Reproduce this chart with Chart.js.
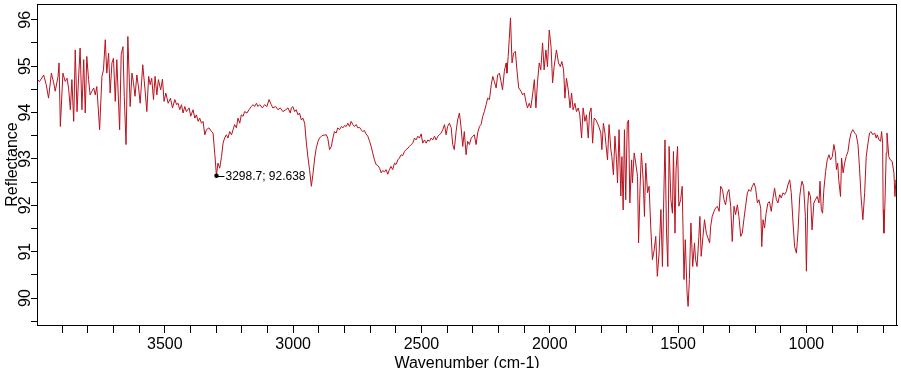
<!DOCTYPE html>
<html>
<head>
<meta charset="utf-8">
<title>Reflectance spectrum</title>
<script src="https://cdn.jsdelivr.net/npm/chart.js"></script>
<style>
  html, body { margin: 0; padding: 0; background: #fff; }
  canvas { display: block; }
</style>
</head>
<body>
<canvas id="spectrum" width="901" height="368"></canvas>
<script>
// spectrum, high to low wavenumber
const wavenumber = [
  3998, 3988, 3972, 3962, 3953, 3942, 3933, 3927, 3916, 3912, 3907, 3897, 3888, 3881, 3875, 3868,
  3862, 3855, 3849, 3842, 3836, 3830, 3823, 3816, 3810, 3804, 3797, 3791, 3784, 3777, 3771, 3765,
  3754, 3745, 3739, 3732, 3726, 3719, 3713, 3706, 3700, 3693, 3687, 3676, 3670, 3663, 3658, 3651,
  3644, 3635, 3628, 3622, 3616, 3609, 3602, 3596, 3586, 3577, 3570, 3563, 3557, 3551, 3544, 3538,
  3531, 3525,
  3516, 3509, 3503, 3496, 3487, 3478, 3470, 3461, 3454, 3448, 3442, 3435, 3429, 3422, 3416, 3405,
  3399, 3390, 3383, 3377, 3370, 3364, 3357, 3351, 3344, 3338, 3328, 3318, 3312, 3305, 3298.7, 3293,
  3286, 3279, 3273, 3267, 3260, 3254, 3247, 3240, 3234, 3228, 3221, 3215, 3208, 3202, 3195, 3189,
  3180, 3172, 3163, 3156, 3150, 3143, 3137, 3130, 3120, 3111, 3102, 3094, 3085, 3079, 3068, 3059,
  3050, 3040, 3029, 3020, 3011,
  3007, 3001, 2994, 2988, 2981, 2975, 2968, 2962, 2955, 2949, 2942, 2936, 2929, 2923, 2916, 2910,
  2903, 2897, 2890, 2884, 2871, 2865, 2858, 2851, 2845, 2839, 2832, 2826, 2819, 2812, 2806, 2800,
  2793, 2787, 2780, 2774, 2767, 2761, 2754, 2748, 2741, 2735, 2729, 2722, 2716, 2709, 2702, 2696,
  2690, 2683, 2677, 2670, 2663, 2657, 2651, 2644, 2638, 2631, 2625, 2619, 2612, 2605, 2599, 2592,
  2586, 2579, 2573, 2566, 2560, 2553, 2547, 2540, 2534, 2527, 2521, 2514, 2508, 2501,
  2495, 2488, 2482, 2475, 2469, 2462, 2456, 2449, 2443, 2436, 2430, 2423, 2417, 2410, 2404, 2398,
  2391, 2384, 2378, 2372, 2365, 2359, 2352, 2346, 2339, 2333, 2326, 2320, 2313, 2306, 2300, 2294,
  2287, 2281, 2274, 2268, 2261, 2255, 2248, 2242, 2235, 2228, 2222, 2216, 2209, 2203, 2196, 2190,
  2184, 2177, 2170, 2167, 2162, 2158, 2153, 2147, 2141, 2134, 2128, 2121, 2112, 2106, 2099, 2093,
  2087, 2080, 2074, 2067, 2060, 2054, 2048, 2041, 2035, 2028, 2022, 2015, 2009, 2002,
  1995, 1989, 1983, 1974, 1966, 1959, 1953, 1946, 1941, 1935, 1928, 1921, 1915, 1909, 1902, 1896,
  1889, 1883, 1876, 1870, 1863, 1857, 1850, 1845, 1839, 1833, 1827, 1820, 1814, 1807, 1801, 1797,
  1791, 1785, 1781, 1775, 1769, 1762, 1758, 1752, 1746, 1740, 1736, 1730, 1723, 1719, 1714, 1709,
  1704, 1698, 1693, 1688, 1681, 1678, 1671, 1665, 1658, 1654, 1648, 1643, 1636, 1631, 1626, 1619,
  1613, 1606, 1600, 1593, 1587, 1581, 1574, 1567, 1561, 1557, 1551, 1545, 1540, 1535, 1528, 1522,
  1518, 1512, 1508, 1502, 1497, 1490,
  1484, 1477, 1472, 1465, 1461, 1456, 1450, 1443, 1436, 1432, 1426, 1419, 1415, 1410, 1403, 1397,
  1390, 1384, 1377, 1373, 1367, 1360, 1354, 1347, 1340, 1334, 1327, 1321, 1315, 1308, 1302, 1295,
  1289, 1282, 1276, 1269, 1263, 1256, 1250, 1243, 1237, 1230, 1224, 1217, 1211, 1204, 1198, 1191,
  1185, 1178, 1174, 1169, 1163, 1157, 1150, 1144, 1137, 1130, 1124, 1117, 1111, 1104, 1098, 1091,
  1085, 1078, 1072, 1065, 1059, 1052, 1046, 1039, 1033, 1026, 1021,
  1017, 1011, 1004, 1000, 995, 991, 984, 978, 971, 965, 958, 951, 947, 942, 937, 932,
  925, 919, 912, 906, 899, 893, 887, 883, 878, 874, 867, 863, 857, 851, 845, 838,
  832, 826, 819, 812, 806, 799, 793, 787, 780, 773, 767, 760, 754, 748, 741, 734,
  728, 724, 717, 711, 707, 703, 701, 698, 694, 689, 686, 679, 673, 666, 659, 655,
  651, 647
];

const reflectance = [
  94.71, 94.67, 94.81, 94.60, 94.31, 94.85, 94.64, 94.46, 94.78, 95.07, 93.70, 94.85, 94.67, 94.74, 94.53, 94.06,
  94.71, 93.81, 95.35, 94.02, 94.74, 95.39, 94.06, 95.14, 93.99, 95.21, 94.71, 94.38, 94.46, 94.53, 94.38, 94.56,
  93.63, 94.78, 94.92, 95.57, 94.85, 95.28, 94.42, 95.07, 95.17, 94.24, 95.14, 93.63, 95.25, 95.42, 94.35, 93.31,
  95.64, 94.13, 94.85, 94.64, 94.35, 94.81, 94.53, 94.20, 95.03, 94.49, 94.02, 94.78, 94.60, 94.74, 94.28, 94.78,
  94.38, 94.71,
  94.49, 94.72, 94.24, 94.42, 94.20, 94.31, 94.10, 94.28, 94.17, 94.20, 94.06, 94.17, 93.99, 94.13, 94.02, 94.10,
  93.92, 94.06, 93.88, 93.95, 93.81, 93.88, 93.77, 93.81, 93.52, 93.63, 93.67, 93.59, 93.56, 93.09, 92.638, 92.91,
  92.80, 93.05, 93.34, 93.45, 93.52, 93.45, 93.59, 93.52, 93.63, 93.74, 93.67, 93.88, 93.77, 93.95, 93.92, 94.02,
  93.99, 94.06, 94.13, 94.17, 94.13, 94.20, 94.13, 94.17, 94.10, 94.17, 94.13, 94.28, 94.17, 94.10, 94.13, 94.06,
  94.10, 94.02, 94.06, 94.10, 93.99,
  94.10, 94.13, 94.02, 94.06, 93.95, 93.99, 93.84, 93.88, 93.77, 93.38, 93.02, 92.77, 92.41, 92.66, 93.02, 93.23,
  93.38, 93.45, 93.49, 93.51, 93.52, 93.45, 93.20, 93.27, 93.45, 93.59, 93.56, 93.67, 93.63, 93.70, 93.67, 93.72,
  93.70, 93.77, 93.70, 93.81, 93.74, 93.70, 93.74, 93.67, 93.68, 93.63, 93.59, 93.61, 93.54, 93.49, 93.38, 93.27,
  93.13, 92.98, 92.88, 92.86, 92.80, 92.70, 92.75, 92.72, 92.77, 92.67, 92.77, 92.84, 92.77, 92.91, 92.88, 92.98,
  93.02, 93.09, 93.07, 93.16, 93.20, 93.23, 93.27, 93.31, 93.34, 93.45, 93.41, 93.49, 93.45, 93.54,
  93.34, 93.41, 93.34, 93.41, 93.38, 93.45, 93.41, 93.49, 93.41, 93.49, 93.52, 93.56, 93.63, 93.74, 93.52, 93.70,
  93.77, 93.67, 93.31, 93.20, 93.59, 93.84, 93.99, 93.70, 93.27, 93.59, 93.09, 93.38, 93.31, 93.45, 93.49, 93.52,
  93.31, 93.56, 93.70, 93.74, 93.92, 94.02, 94.17, 94.31, 94.28, 94.60, 94.78, 94.67, 94.53, 94.81, 94.85, 94.67,
  94.49, 94.89, 95.07, 94.85, 95.21, 95.57, 96.04, 95.07, 95.28, 95.32, 94.92, 94.53, 94.46, 94.38, 94.42, 94.24,
  94.10, 94.20, 94.10, 94.38, 94.71, 94.10, 94.64, 95.07, 94.92, 95.50, 94.92, 95.35, 94.99, 95.78,
  95.42, 94.64, 94.99, 95.35, 95.07, 94.99, 95.10, 94.92, 94.31, 94.74, 94.49, 94.10, 94.42, 94.06, 94.20, 94.02,
  94.10, 93.95, 93.45, 94.10, 93.81, 93.95, 93.45, 93.99, 94.10, 93.34, 93.88, 93.84, 93.77, 93.67, 93.56, 93.20,
  93.77, 93.56, 93.31, 92.98, 93.74, 93.20, 93.05, 92.66, 93.49, 92.98, 92.48, 93.63, 92.20, 93.05, 91.90, 93.63,
  92.12, 93.77, 93.84, 92.05, 92.98, 92.48, 93.13, 92.91, 92.62, 91.19, 92.41, 93.13, 92.55, 91.76, 92.91, 92.27,
  92.41, 91.47, 90.83, 91.04, 91.33, 90.47, 90.97, 91.91, 90.68, 91.83, 93.41, 91.40, 90.68, 93.27, 92.12, 91.83,
  93.16, 91.40, 92.77, 93.27, 91.98, 92.12,
  92.41, 90.40, 91.26, 90.11, 89.82, 90.40, 91.62, 90.68, 91.19, 90.83, 90.68, 91.33, 91.76, 90.90, 91.33, 91.69,
  91.40, 91.30, 91.19, 91.55, 91.76, 91.87, 91.94, 91.98, 91.87, 92.41, 92.34, 92.12, 92.01, 92.27, 92.34, 91.98,
  91.22, 91.98, 91.80, 92.01, 91.76, 91.33, 91.40, 91.72, 91.98, 92.27, 92.34, 92.30, 92.41, 92.48, 92.37, 92.05,
  92.12, 91.94, 91.11, 91.69, 91.51, 91.83, 92.05, 92.08, 91.87, 92.16, 92.37, 92.12, 92.05, 92.23, 92.16, 92.27,
  92.23, 92.30, 92.44, 92.55, 92.27, 91.62, 91.11, 90.97, 91.40, 92.19, 92.41,
  92.52, 92.41, 91.76, 90.58, 91.98, 92.30, 92.19, 91.47, 92.05, 92.12, 92.19, 92.05, 92.52, 91.91, 91.83, 92.34,
  92.73, 92.98, 93.09, 92.98, 93.05, 93.31, 93.13, 92.77, 92.91, 92.55, 92.19, 93.02, 92.70, 92.91, 93.05, 93.16,
  93.41, 93.56, 93.63, 93.56, 93.52, 93.31, 92.80, 92.19, 91.69, 92.27, 93.05, 93.34, 93.56, 93.59, 93.52, 93.56,
  93.45, 93.52, 93.41, 93.38, 93.59, 93.34, 91.91, 91.40, 92.05, 93.13, 93.56, 93.05, 92.98, 92.95, 92.70, 92.19,
  92.55, 92.41
];

// axes
const xTickValues = [3900, 3800, 3700, 3600, 3500, 3400, 3300, 3200, 3100, 3000, 2900, 2800, 2700, 2600, 2500,
  2400, 2300, 2200, 2100, 2000, 1900, 1800, 1700, 1600, 1500, 1400, 1300, 1200, 1100, 1000, 900, 800, 700];
const yTickValues = [89.5, 90, 90.5, 91, 91.5, 92, 92.5, 93, 93.5, 94, 94.5, 95, 95.5, 96];
const yLabelValues = [90, 91, 92, 93, 94, 95, 96];

// marked peak
const peakX = 3298.7;
const peakY = 92.638;
const peakLabel = '3298.7; 92.638';

const FONT = '"Liberation Sans", Arial, sans-serif';

const points = wavenumber.map((w, i) => ({ x: w, y: reflectance[i] }));

const framePlugin = {
  id: 'frame',
  afterDraw(chart) {
    const { ctx, chartArea: a, scales } = chart;
    const x = scales.x, y = scales.y;
    ctx.save();
    ctx.strokeStyle = '#000';
    ctx.lineWidth = 1;
    ctx.strokeRect(a.left + 0.5, a.top + 0.5, a.right - a.left - 1, a.bottom - a.top);

    // rotated y labels
    ctx.fillStyle = '#000';
    ctx.font = '16px ' + FONT;
    ctx.textAlign = 'center';
    ctx.textBaseline = 'alphabetic';
    yLabelValues.forEach(v => {
      ctx.save();
      ctx.translate(y.right - 7, y.getPixelForValue(v));
      ctx.rotate(-Math.PI / 2);
      ctx.fillText(String(v), 0, 0);
      ctx.restore();
    });

    // peak label
    const px = x.getPixelForValue(peakX);
    const py = y.getPixelForValue(peakY);
    ctx.beginPath();
    ctx.moveTo(px, Math.round(py) + 0.5);
    ctx.lineTo(px + 8, Math.round(py) + 0.5);
    ctx.stroke();
    ctx.font = '12px ' + FONT;
    ctx.textAlign = 'left';
    ctx.textBaseline = 'middle';
    ctx.fillText(peakLabel, px + 9, py + 1);
    ctx.restore();
  }
};

new Chart(document.getElementById('spectrum'), {
  type: 'line',
  data: {
    datasets: [
      {
        label: 'peak',
        data: [{ x: peakX, y: peakY }],
        showLine: false,
        pointRadius: 2.2,
        pointBackgroundColor: '#000',
        pointBorderColor: '#000',
        pointBorderWidth: 0
      },
      {
        label: 'Reflectance',
        data: points,
        borderColor: 'rgb(184,18,30)',
        borderWidth: 1,
        pointRadius: 0,
        tension: 0,
        fill: false
      }
    ]
  },
  options: {
    responsive: false,
    animation: false,
    events: [],
    layout: { padding: { left: 0, right: 3, top: 4, bottom: 0 } },
    plugins: {
      legend: { display: false },
      tooltip: { enabled: false }
    },
    scales: {
      x: {
        type: 'linear',
        reverse: true,
        min: 647,
        max: 3998,
        afterBuildTicks: s => { s.ticks = xTickValues.map(v => ({ value: v })); },
        afterFit: s => { s.height = 43; },
        grid: { drawOnChartArea: false, drawTicks: true, tickLength: 8, color: '#000', lineWidth: 1 },
        border: { display: true, color: '#000', width: 1 },
        ticks: {
          autoSkip: false,
          maxRotation: 0,
          minRotation: 0,
          padding: 2,
          color: '#000',
          font: { family: FONT, size: 16 },
          callback: v => (v % 500 === 0 ? String(v) : '')
        },
        title: {
          display: true,
          text: 'Wavenumber (cm-1)',
          color: '#000',
          font: { family: FONT, size: 16 },
          padding: { top: 0, bottom: -5 }
        }
      },
      y: {
        type: 'linear',
        min: 89.42,
        max: 96.34,
        afterBuildTicks: s => { s.ticks = yTickValues.map(v => ({ value: v })); },
        afterFit: s => { s.width = 37; },
        grid: { drawOnChartArea: false, drawTicks: true, tickLength: 6, color: '#000', lineWidth: 1 },
        border: { display: true, color: '#000', width: 1 },
        ticks: { display: false },
        title: {
          display: true,
          text: 'Reflectance',
          color: '#000',
          font: { family: FONT, size: 16 },
          padding: { top: 3, bottom: 0 }
        }
      }
    }
  },
  plugins: [framePlugin]
});
</script>
</body>
</html>
